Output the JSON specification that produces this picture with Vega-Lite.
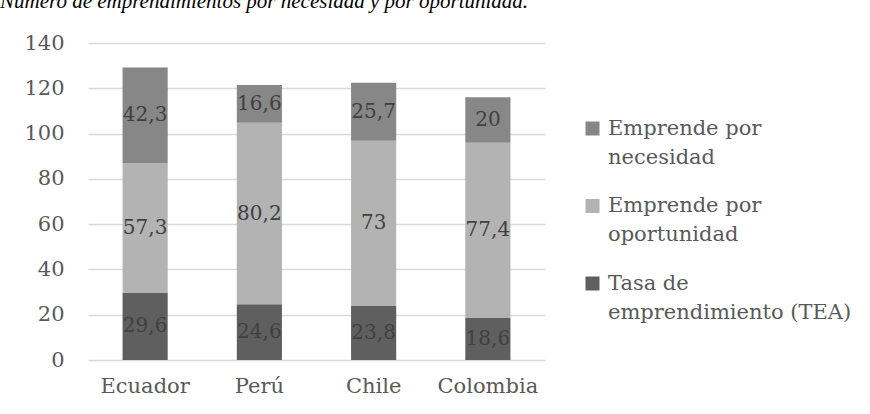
{
  "$schema": "https://vega.github.io/schema/vega-lite/v6.json",
  "width": 457,
  "height": 317,
  "autosize": {"type": "none"},
  "padding": {"left": 88, "top": 43, "right": 325, "bottom": 54},
  "config": {
    "locale": {"number": {"decimal": ",", "thousands": ".", "grouping": [3], "currency": ["", " €"]}},
    "view": {"stroke": null},
    "font": "DejaVu Serif"
  },
  "title": {
    "text": "Número de emprendimientos por necesidad y por oportunidad.",
    "anchor": "start",
    "frame": "group",
    "font": "Times New Roman",
    "fontStyle": "italic",
    "fontWeight": "normal",
    "fontSize": 21,
    "color": "#000000",
    "baseline": "alphabetic",
    "dx": -88,
    "offset": 3
  },
  "data": {
    "values": [
      {"pais": "Ecuador", "serie": "Tasa de emprendimiento (TEA)", "orden": 1, "valor": 29.6},
      {"pais": "Ecuador", "serie": "Emprende por oportunidad", "orden": 2, "valor": 57.3},
      {"pais": "Ecuador", "serie": "Emprende por necesidad", "orden": 3, "valor": 42.3},
      {"pais": "Perú", "serie": "Tasa de emprendimiento (TEA)", "orden": 1, "valor": 24.6},
      {"pais": "Perú", "serie": "Emprende por oportunidad", "orden": 2, "valor": 80.2},
      {"pais": "Perú", "serie": "Emprende por necesidad", "orden": 3, "valor": 16.6},
      {"pais": "Chile", "serie": "Tasa de emprendimiento (TEA)", "orden": 1, "valor": 23.8},
      {"pais": "Chile", "serie": "Emprende por oportunidad", "orden": 2, "valor": 73},
      {"pais": "Chile", "serie": "Emprende por necesidad", "orden": 3, "valor": 25.7},
      {"pais": "Colombia", "serie": "Tasa de emprendimiento (TEA)", "orden": 1, "valor": 18.6},
      {"pais": "Colombia", "serie": "Emprende por oportunidad", "orden": 2, "valor": 77.4},
      {"pais": "Colombia", "serie": "Emprende por necesidad", "orden": 3, "valor": 20}
    ]
  },
  "encoding": {
    "x": {
      "field": "pais",
      "type": "nominal",
      "sort": ["Ecuador", "Perú", "Chile", "Colombia"],
      "scale": {"paddingInner": 0.605, "paddingOuter": 0.3025},
      "axis": {
        "title": null,
        "labelAngle": 0,
        "domain": false,
        "ticks": false,
        "labelPadding": 15,
        "labelFontSize": 21,
        "labelColor": "#595959",
        "labelFont": "DejaVu Serif"
      }
    },
    "y": {
      "field": "valor",
      "type": "quantitative",
      "stack": "zero",
      "scale": {"domain": [0, 140], "nice": false},
      "axis": {
        "title": null,
        "values": [0, 20, 40, 60, 80, 100, 120, 140],
        "domain": false,
        "ticks": false,
        "labelPadding": 24,
        "labelFontSize": 21,
        "labelColor": "#595959",
        "labelFont": "DejaVu Serif",
        "gridColor": "#d9d9d9",
        "gridWidth": 1.5
      }
    },
    "order": {"field": "orden", "type": "quantitative"}
  },
  "layer": [
    {
      "mark": {"type": "bar"},
      "encoding": {
        "color": {
          "field": "serie",
          "type": "nominal",
          "scale": {
            "domain": ["Emprende por necesidad", "Emprende por oportunidad", "Tasa de emprendimiento (TEA)"],
            "range": ["#878787", "#b3b3b3", "#5f5f5f"]
          },
          "legend": {
            "title": null,
            "orient": "none",
            "legendX": 494,
            "legendY": 75,
            "padding": 0,
            "symbolType": "square",
            "symbolSize": 196,
            "symbolStrokeWidth": 0,
            "labelFontSize": 21,
            "labelColor": "#595959",
            "labelFont": "DejaVu Serif",
            "labelOffset": 5,
            "labelLimit": 400,
            "labelBaseline": "middle",
            "rowPadding": 26.5,
            "labelExpr": "datum.label == 'Tasa de emprendimiento (TEA)' ? ['Tasa de', 'emprendimiento (TEA)'] : [slice(datum.label, 0, 12), slice(datum.label, 13)]",
            "encode": {"labels": {"update": {"lineHeight": {"value": 29}}}}
          }
        }
      }
    },
    {
      "mark": {"type": "text", "fontSize": 20, "color": "#404040", "font": "DejaVu Serif"},
      "encoding": {
        "y": {"field": "valor", "type": "quantitative", "stack": "zero", "bandPosition": 0.5},
        "text": {"field": "valor", "type": "quantitative", "format": "~g"}
      }
    }
  ]
}
